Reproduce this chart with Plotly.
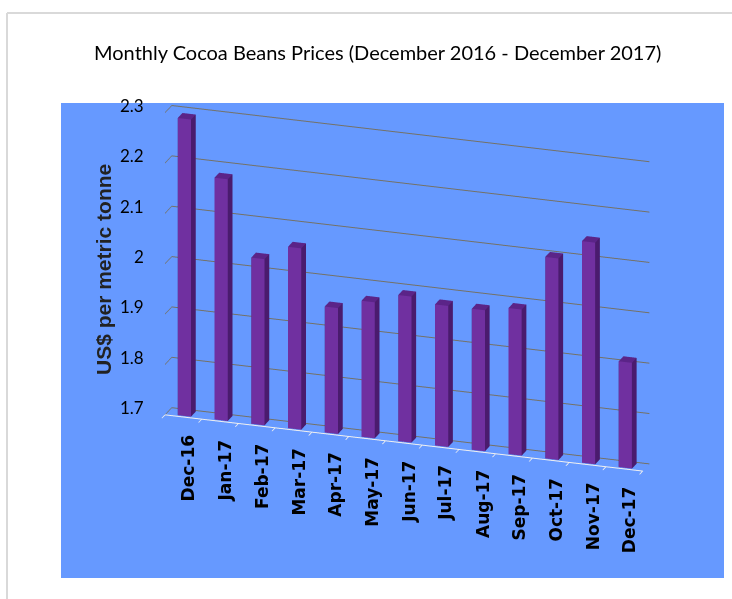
import plotly.graph_objects as go

months = ["Dec-16", "Jan-17", "Feb-17", "Mar-17", "Apr-17", "May-17", "Jun-17",
          "Jul-17", "Aug-17", "Sep-17", "Oct-17", "Nov-17", "Dec-17"]
prices = [2.29, 2.18, 2.03, 2.06, 1.95, 1.97, 1.99, 1.98, 1.98, 1.99, 2.10, 2.14, 1.91]
z_ticks = [1.7, 1.8, 1.9, 2.0, 2.1, 2.2, 2.3]
z_tick_text = ["1.7", "1.8", "1.9", "2", "2.1", "2.2", "2.3"]

title_text = "Monthly Cocoa Beans Prices (December 2016 - December 2017)"
y_title = "US$ per metric tonne"

BASE = 1.7
BAR_W = 0.36
Y0, Y1 = 0.15, 0.85
FRONT, SIDE, TOP = "#7030a0", "#4a1b6e", "#5b2488"

# build box meshes from data
X, Y, Z, I, J, K, FC = [], [], [], [], [], [], []
for idx, v in enumerate(prices):
    x0, x1 = idx - BAR_W / 2, idx + BAR_W / 2
    b = len(X)
    corners = [(x0, Y0, BASE), (x1, Y0, BASE), (x1, Y1, BASE), (x0, Y1, BASE),
               (x0, Y0, v), (x1, Y0, v), (x1, Y1, v), (x0, Y1, v)]
    for cx, cy, cz in corners:
        X.append(cx); Y.append(cy); Z.append(cz)
    faces = [((0, 1, 5), FRONT), ((0, 5, 4), FRONT),
             ((1, 2, 6), SIDE), ((1, 6, 5), SIDE),
             ((4, 5, 6), TOP), ((4, 6, 7), TOP),
             ((3, 0, 4), SIDE), ((3, 4, 7), SIDE),
             ((2, 3, 7), SIDE), ((2, 7, 6), SIDE),
             ((0, 1, 2), SIDE), ((0, 2, 3), SIDE)]
    for (a, bb, c), col in faces:
        I.append(b + a); J.append(b + bb); K.append(b + c); FC.append(col)

fig = go.Figure()
fig.add_trace(go.Mesh3d(
    x=X, y=Y, z=Z, i=I, j=J, k=K, facecolor=FC, flatshading=True,
    lighting=dict(ambient=1, diffuse=0, specular=0, roughness=1, fresnel=0),
    hoverinfo="skip", showscale=False))

annotations = []
for idx, m in enumerate(months):
    annotations.append(dict(
        x=idx, y=0, z=BASE, text="<b>" + m + "</b>", textangle=-90, showarrow=False,
        xanchor="center", yanchor="top", yshift=-16, xshift=5,
        font=dict(family="DejaVu Sans", size=17, color="black"),
    ))
for zv, zt in zip(z_ticks, z_tick_text):
    annotations.append(dict(
        x=-0.5, y=1, z=zv, text=zt, showarrow=False,
        xanchor="right", yanchor="middle", xshift=-26,
        font=dict(family="Lato, sans-serif", size=17, color="black"),
    ))

cam_center = (-0.037, -0.085, -0.209)
view_dir = (0.31, -0.93, 0.37)

ax_common = dict(showbackground=False, showspikes=False, title=dict(text=""),
                 zeroline=False)
fig.update_layout(
    width=732, height=599,
    margin=dict(l=0, r=0, t=0, b=0),
    paper_bgcolor="white",
    showlegend=False,
    title=dict(text=title_text, x=0.516, xanchor="center", y=0.912, yanchor="middle",
               font=dict(family="Lato, sans-serif", size=20, color="black")),
    scene=dict(
        domain=dict(x=[61 / 732, 724 / 732], y=[1 - 578 / 599, 1 - 103 / 599]),
        bgcolor="#6699ff",
        aspectmode="manual",
        aspectratio=dict(x=2.12, y=0.09, z=1.36),
        camera=dict(eye=dict(x=cam_center[0] + view_dir[0], y=cam_center[1] + view_dir[1],
                             z=cam_center[2] + view_dir[2]),
                    center=dict(x=cam_center[0], y=cam_center[1], z=cam_center[2]),
                    up=dict(x=0, y=0, z=1),
                    projection=dict(type="orthographic")),
        xaxis=dict(ax_common, range=[-0.5, 12.5], tickvals=[i - 0.5 for i in range(14)],
                   ticktext=[""] * 14, showgrid=False, showline=True,
                   linecolor="#f0f0f0", linewidth=2, ticks="outside",
                   tickcolor="#f0f0f0", ticklen=6, tickwidth=2),
        yaxis=dict(ax_common, range=[0, 1], showgrid=False, showline=False,
                   showticklabels=False, ticks=""),
        zaxis=dict(ax_common, range=[1.7, 2.3], tickvals=z_ticks,
                   showgrid=True, gridcolor="#747166", gridwidth=2, showline=False,
                   ticks="", showticklabels=False),
        annotations=annotations,
    ),
    annotations=[dict(
        text="<b>" + y_title + "</b>", x=103 / 732, y=1 - 269 / 599, xref="paper", yref="paper",
        textangle=-90, showarrow=False, xanchor="center", yanchor="middle",
        font=dict(family="Liberation Sans, Arial, sans-serif", size=21, color="#222222"))],
    shapes=[
        dict(type="line", xref="paper", yref="paper", x0=7 / 732, x1=7 / 732,
             y0=0, y1=1 - 13 / 599, line=dict(color="#d9d9d9", width=2)),
        dict(type="line", xref="paper", yref="paper", x0=7 / 732, x1=1,
             y0=1 - 13 / 599, y1=1 - 13 / 599, line=dict(color="#d9d9d9", width=2)),
    ],
)

fig.write_html("out.html", config={"displayModeBar": False})
